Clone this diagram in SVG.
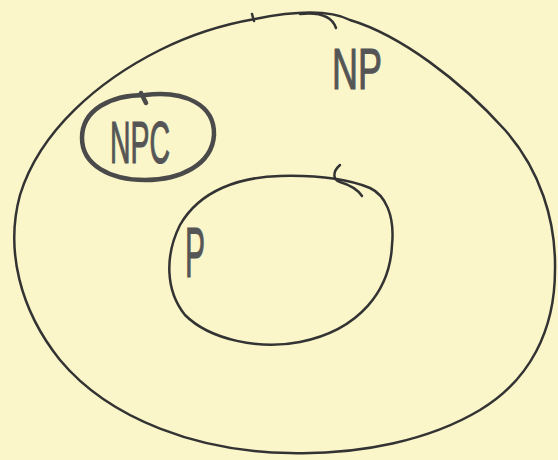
<svg xmlns="http://www.w3.org/2000/svg" width="558" height="460" viewBox="0 0 558 460">
<style>
.line{fill:none;stroke:#333;stroke-width:2.5;stroke-linecap:round;stroke-linejoin:round}
.bold{fill:none;stroke:#4a4a4a;stroke-width:4.5;stroke-linecap:round;stroke-linejoin:round}
.lbl{font-family:"Liberation Sans",Arial,sans-serif;fill:#555;stroke:#555;stroke-width:1.2}
</style>
<rect width="558" height="460" fill="#faf6c9"/>
<g id="NP">
<path class="line" d="M 255,19 C 300,10 330,10 350,20 C 400,35 460,80 505,130 C 540,170 556,220 555,270 C 555,330 530,380 480,410 C 430,440 360,455 290,453 C 200,452 110,420 60,360 C 20,310 5,250 20,195 C 40,130 100,80 160,50 C 190,35 220,25 255,19 Z"/>
<path class="line" d="M 300,14 C 320,12 332,16 336,28"/>
<path class="line" d="M 252,14 L 254,21"/>
<text class="lbl" x="332" y="89" font-size="58" textLength="50" lengthAdjust="spacingAndGlyphs">NP</text>
</g>
<g id="NPC">
<path class="bold" d="M 145,95 C 185,90 215,105 214,135 C 212,165 180,180 145,180 C 110,180 82,165 82,138 C 82,110 110,95 145,95 Z"/>
<path class="bold" d="M 141,93 L 146,103"/>
<text class="lbl" x="110" y="163" font-size="60" textLength="60" lengthAdjust="spacingAndGlyphs">NPC</text>
</g>
<g id="P">
<path class="line" d="M 280,176 C 320,175 350,180 370,188 C 385,195 395,215 392,245 C 390,290 360,330 300,342 C 260,350 210,340 185,315 C 165,290 165,255 180,225 C 200,190 240,177 280,176 Z"/>
<path class="line" d="M 340,165 C 332,172 333,180 340,182 C 350,185 358,190 362,196"/>
<text class="lbl" x="185" y="277" font-size="70" textLength="20" lengthAdjust="spacingAndGlyphs">P</text>
</g>
<g id="connectors"></g>
</svg>
